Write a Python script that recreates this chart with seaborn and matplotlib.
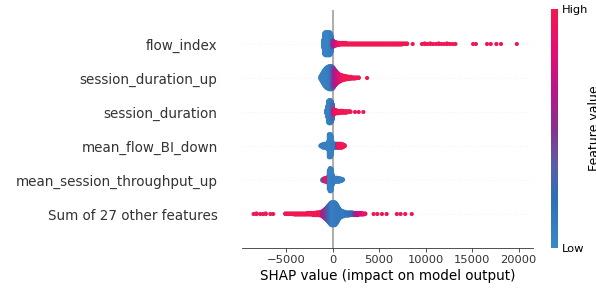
import numpy as np
import pandas as pd
import matplotlib
matplotlib.use("Agg")
import matplotlib.pyplot as plt
from matplotlib.colors import LinearSegmentedColormap, Normalize
from matplotlib.cm import ScalarMappable
import seaborn as sns

# feature rows, bottom to top
features = ["Sum of 27 other features", "mean_session_throughput_up", "mean_flow_BI_down",
            "session_duration", "session_duration_up", "flow_index"]

# --- flow_index (shap value bins, point counts, feature value 0..1)
fi_x = [-1000, -900, -800, -700, -600, -500, -400, -300, -200, -100,
        0, 100, 200, 300, 400, 500, 600, 700,
        800, 1000, 1200, 1400, 1600, 1800, 2000, 2200, 2400, 2600, 2800, 3000, 3200,
        3400, 3600, 3800, 4000, 4200, 4400, 4600, 4800, 5000, 5200, 5400, 5600, 5800,
        6000, 6200, 6400, 6600, 6800, 7000, 7200, 7400, 7600, 7800, 8000,
        8600, 9600, 9900, 10200, 10500, 10800, 11100, 11400, 11700, 12000, 12300,
        12600, 12900, 13200, 15100, 15400, 16600, 17000, 17600, 18100, 19800]
fi_n = [16, 40, 44, 44, 44, 44, 44, 44, 40, 30,
        14, 10, 8, 7, 6, 5, 5, 4,
        4, 4, 4, 4, 3, 3, 3, 3, 3, 3, 3, 3, 3,
        3, 3, 3, 3, 3, 3, 3, 3, 3, 3, 3, 3, 3,
        3, 3, 3, 3, 3, 3, 3, 3, 2, 2, 2,
        1, 1, 2, 1, 2, 1, 1, 2, 1, 1, 2,
        1, 1, 1, 1, 1, 1, 1, 1, 1, 1]
fi_c = [0.05, 0.05, 0.05, 0.05, 0.05, 0.05, 0.05, 0.05, 0.08, 0.1,
        0.45, 0.55, 0.65, 0.75, 0.8, 0.85, 0.9, 0.92] + [0.97] * 37 + [0.97] * 21

# --- session_duration_up
sdu_x = [-1300, -1200, -1100, -1000, -900, -800, -700, -600, -500, -400, -300, -200, -100, 0,
         100, 200, 300, 400, 500, 600, 700, 800, 900, 1000, 1100, 1200, 1300, 1400, 1500,
         1600, 1700, 1800, 1900, 2000, 2200, 2400, 2600, 2800, 3700]
sdu_n = [6, 12, 18, 24, 30, 34, 38, 40, 42, 44, 44, 44, 44, 42,
         38, 32, 28, 24, 20, 17, 15, 13, 11, 10, 9, 8, 7, 6, 6,
         5, 5, 4, 4, 4, 3, 3, 2, 2, 1]
sdu_c = [0.06, 0.06, 0.06, 0.06, 0.06, 0.06, 0.06, 0.06, 0.07, 0.08, 0.08, 0.1, 0.15, 0.3,
         0.45, 0.55, 0.6, 0.65, 0.7, 0.75, 0.8, 0.85, 0.9, 0.92, 0.94, 0.95, 0.96, 0.97, 0.97,
         0.97, 0.97, 0.97, 0.97, 0.97, 0.97, 0.97, 0.97, 0.97, 0.97]

# --- session_duration
sd_x = [-700, -600, -500, -400, -300, -200, -100, 0,
        100, 200, 300, 400, 500, 600, 700, 800, 900, 1000, 1100, 1200, 1300, 1400, 1500,
        1600, 1700, 1800, 1900, 2400, 2800, 3300]
sd_n = [6, 20, 40, 44, 44, 44, 40, 30,
        10, 8, 7, 6, 5, 5, 5, 4, 4, 4, 4, 3, 3, 3, 3,
        2, 2, 2, 2, 1, 1, 1]
sd_c = [0.06, 0.06, 0.06, 0.06, 0.06, 0.07, 0.1, 0.3,
        0.8, 0.85, 0.9, 0.92, 0.95, 0.96, 0.97, 0.97, 0.97, 0.97, 0.97, 0.97, 0.97, 0.97, 0.97,
        0.97, 0.97, 0.97, 0.97, 0.97, 0.97, 0.97]

# --- mean_flow_BI_down
mfb_x = [-1300, -1200, -1100, -1000, -900, -800, -700, -600, -500, -400, -300, -200, -100, 0,
         100, 200, 300, 400, 500, 600, 700, 800, 900, 1000, 1100, 1200, 1300]
mfb_n = [2, 4, 6, 7, 8, 8, 8, 9, 16, 44, 44, 44, 36, 14,
         9, 8, 8, 8, 8, 8, 8, 8, 8, 7, 6, 4, 2]
mfb_c = [0.1, 0.08, 0.08, 0.08, 0.08, 0.08, 0.08, 0.08, 0.08, 0.06, 0.06, 0.06, 0.06, 0.1,
         0.1, 0.1, 0.1, 0.12, 0.5, 0.9, 0.95, 0.96, 0.97, 0.97, 0.97, 0.97, 0.97]

# --- mean_session_throughput_up
mst_x = [-1100, -1000, -900, -800, -700, -600, -500, -400, -300, -200, -100, 0,
         100, 200, 300, 400, 500, 600, 700, 800, 900, 1000, 1100]
mst_n = [3, 5, 6, 7, 8, 8, 12, 36, 44, 44, 40, 20,
         9, 9, 8, 8, 8, 7, 7, 6, 5, 4, 2]
mst_c = [0.15, 0.3, 0.6, 0.9, 0.95, 0.95, 0.8, 0.08, 0.06, 0.06, 0.06, 0.08,
         0.1, 0.1, 0.08, 0.08, 0.08, 0.08, 0.08, 0.08, 0.08, 0.08, 0.08]

# --- Sum of 27 other features
oth_x = [-8500, -8200, -7800, -7500, -7200, -6700, -6400,
         -5100, -4900, -4700, -4500, -4300, -4100, -3900, -3700, -3500, -3300,
         -3100, -2900, -2700, -2500, -2300, -2100, -1900, -1700, -1500, -1300,
         -1100, -1000, -900, -800, -700, -600, -500, -400, -300, -200, -100, 0,
         100, 200, 300, 400, 500, 600, 700, 800, 900, 1000, 1100, 1200, 1300,
         1500, 1700, 1900, 2100, 2300, 2500, 2700, 2900, 3100, 3300, 3500,
         4400, 4800, 5300, 5800, 6900, 7300, 7800, 8500]
oth_n = [1, 2, 1, 1, 2, 1, 1,
         2, 2, 2, 2, 2, 3, 3, 3, 3, 3,
         3, 3, 4, 4, 4, 5, 5, 6, 6, 8,
         10, 13, 16, 19, 22, 26, 30, 34, 38, 42, 44, 44,
         44, 44, 42, 38, 32, 26, 20, 16, 13, 11, 10, 9, 8,
         7, 7, 6, 6, 5, 5, 5, 4, 4, 3, 2,
         1, 1, 1, 1, 1, 1, 1, 1]
oth_c = [0.97] * 27 + \
        [0.7, 0.6, 0.55, 0.5, 0.45, 0.42, 0.4, 0.3, 0.2, 0.15, 0.1, 0.08,
         0.08, 0.08, 0.1, 0.1, 0.12, 0.12, 0.12, 0.12, 0.12, 0.12, 0.12, 0.12, 0.12,
         0.15, 0.15, 0.2, 0.25, 0.45, 0.55, 0.65, 0.75, 0.8, 0.85, 0.9] + [0.97] * 8

rows = [(oth_x, oth_n, oth_c), (mst_x, mst_n, mst_c), (mfb_x, mfb_n, mfb_c),
        (sd_x, sd_n, sd_c), (sdu_x, sdu_n, sdu_c), (fi_x, fi_n, fi_c)]

row_height = 0.4
frames = []
for pos, (xs, ns, cs) in enumerate(rows):
    # beeswarm stacking like shap: alternate up / down inside each bin
    sx, fv, ys = [], [], []
    for x, n, c in zip(xs, ns, cs):
        for layer in range(n):
            sx.append(x)
            fv.append(c)
            ys.append(np.ceil(layer / 2) * ((layer % 2) * 2 - 1))
    ys = np.array(ys, dtype=float)
    ys *= 0.9 * (row_height / np.max(ys + 1))
    frames.append(pd.DataFrame({"shap": sx, "feat": fv, "y": pos + ys}))
df = pd.concat(frames, ignore_index=True)

cmap = LinearSegmentedColormap.from_list(
    "shap_rb", [(0.0, "#3a88c8"), (0.2, "#2f6fb6"), (0.35, "#5a5ea8"), (0.5, "#88308e"),
                (0.65, "#b3188a"), (0.85, "#e80f6e"), (1.0, "#f01a4e")])

axis_color = "#333333"
fig = plt.figure(figsize=(596 / 75, 293 / 75), dpi=75)
ax = fig.add_axes([242 / 596, 45 / 293, 291 / 596, 238 / 293])

ax.axvline(x=0, color="#999999", zorder=-1)
for pos in range(len(features)):
    ax.axhline(y=pos, color="#cccccc", lw=0.5, dashes=(1, 5), zorder=-1)

sns.scatterplot(data=df, x="shap", y="y", hue="feat", palette=cmap, hue_norm=(0, 1),
                s=16, linewidth=0, alpha=1, legend=False, ax=ax, rasterized=True)

ax.set_xlim(-9750, 21540)
ax.set_ylim(-1, len(features))
ax.set_yticks(range(len(features)))
ax.set_yticklabels(features, fontsize=13)
ax.xaxis.set_ticks_position("bottom")
ax.yaxis.set_ticks_position("none")
for s in ["right", "top", "left"]:
    ax.spines[s].set_visible(False)
ax.spines["bottom"].set_color(axis_color)
ax.tick_params(color=axis_color, labelcolor=axis_color)
ax.tick_params("y", length=20, width=0.5, which="major")
ax.tick_params("x", labelsize=11)
ax.set_xlabel("SHAP value (impact on model output)", fontsize=13)
ax.set_ylabel("")

cax = fig.add_axes([551 / 596, 45 / 293, 7 / 596, 239 / 293])
cb = fig.colorbar(ScalarMappable(norm=Normalize(0, 1), cmap=cmap), cax=cax, ticks=[0, 1])
cb.set_ticklabels(["Low", "High"])
cb.set_label("Feature value", size=12, labelpad=0)
cb.ax.tick_params(labelsize=11, length=0)
cb.outline.set_visible(False)

fig.savefig("out.png", dpi=75)
